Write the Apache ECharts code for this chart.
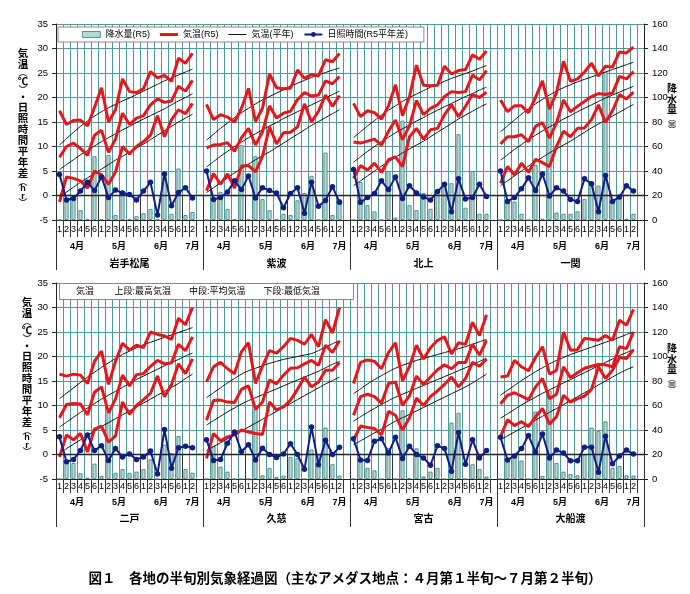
<!DOCTYPE html>
<html><head><meta charset="utf-8">
<script src="https://cdn.jsdelivr.net/npm/echarts@6/dist/echarts.min.js"></script>
<style>html,body{margin:0;padding:0;background:#fff}#c{width:690px;height:594px}</style>
</head><body><div id="c"></div>
<script>
// ---------------- data ----------------
const stations = ['岩手松尾','紫波','北上','一関','二戸','久慈','宮古','大船渡'];
const months = ['4月','5月','6月','7月'];
const monthSizes = [6,6,6,2];
const pentads = ['1','2','3','4','5','6','1','2','3','4','5','6','1','2','3','4','5','6','1','2'];
const legendNames = ['降水量(R5)','気温(R5)','気温(平年)','日照時間(R5平年差)'];
const noteText = '気温　 　上段:最高気温　　中段:平均気温　　下段:最低気温';
const captionText = '図１　各地の半旬別気象経過図（主なアメダス地点：４月第１半旬～７月第２半旬）';
const leftTitle = [['k','気'],['k','温'],['p','︵'],['k','℃'],['p','︶'],['d','・'],['k','日'],['k','照'],['k','時'],['k','間'],['k','平'],['k','年'],['k','差'],['p','︵'],['a','h'],['a','r'],['p','︶']];
const rightTitle = [['k','降'],['k','水'],['k','量'],['p','︵'],['s','㎜'],['p','︶']];

// max temperature R5 (°C)
const tmax = [
 [17.3,14.5,15.3,15.4,14.2,18.0,22.0,15.0,17.5,23.8,21.2,21.0,21.8,25.3,24.0,24.5,23.3,28.0,27.0,29.0],
 [18.6,15.5,16.5,16.0,15.0,17.8,21.9,15.1,17.8,24.8,22.0,21.8,21.9,25.6,23.9,24.7,24.4,27.7,27.3,29.0],
 [18.8,16.1,17.3,16.9,15.6,18.3,22.6,16.3,20.2,26.6,22.5,22.4,22.5,26.4,24.8,25.5,25.7,28.7,27.8,29.5],
 [19.5,17.1,18.3,18.3,16.9,20.0,23.4,17.6,21.0,27.4,23.3,23.8,25.2,27.0,24.4,26.4,26.2,29.3,29.1,30.3],
 [16.4,16.0,16.4,16.2,14.5,19.0,21.1,14.3,19.0,22.7,21.3,22.3,21.8,25.0,24.5,24.2,23.5,27.8,26.5,30.0],
 [14.8,17.9,18.8,17.5,16.5,21.0,22.8,14.5,18.0,21.2,20.7,22.0,23.7,23.3,22.5,24.5,22.0,27.5,24.8,30.0],
 [14.5,18.8,19.3,19.0,17.5,20.8,22.8,15.0,18.0,22.3,19.5,21.8,23.3,24.0,20.5,22.8,22.5,27.0,24.3,28.5],
 [15.8,16.0,19.2,17.9,17.1,19.8,22.0,16.4,17.2,25.0,21.3,21.4,23.7,23.5,23.3,24.3,23.3,27.4,26.4,29.6]
];
// mean temperature R5
const tmean = [
 [7.8,10.0,10.7,9.6,8.2,12.3,13.3,8.8,11.5,16.8,14.5,15.8,16.3,18.5,19.7,19.0,19.3,22.3,21.3,23.5],
 [9.7,10.3,10.4,10.8,9.0,11.8,13.7,10.3,13.0,18.3,15.8,16.8,17.2,19.6,21.0,20.3,20.5,23.4,22.8,24.3],
 [10.9,10.7,11.1,11.5,10.3,13.1,15.4,11.4,14.2,19.4,16.5,17.8,18.5,20.2,21.2,21.0,21.2,24.6,23.6,25.5],
 [10.5,12.0,12.0,12.4,11.0,14.1,14.9,11.7,14.8,19.5,17.1,18.2,19.2,20.2,20.8,20.6,20.9,24.3,23.8,25.3],
 [7.5,10.2,10.4,10.3,8.1,12.7,13.8,8.5,11.3,16.2,14.0,16.3,16.5,18.0,19.2,18.5,18.7,22.5,21.2,24.0],
 [7.0,11.0,11.1,10.7,10.6,13.3,14.0,9.2,10.7,15.2,14.4,16.2,17.6,17.7,18.5,19.2,18.2,22.3,20.8,23.2],
 [8.0,11.8,12.3,11.8,10.5,14.5,14.8,10.0,12.0,16.0,14.3,15.8,17.3,18.3,17.5,18.8,18.8,22.5,20.3,23.3],
 [10.3,12.1,12.6,11.9,11.2,13.8,15.5,11.4,12.3,17.9,15.7,16.7,17.6,18.0,18.4,18.3,17.9,22.0,21.6,25.0]
];
// min temperature R5
const tmin = [
 [-1.3,3.8,3.5,3.0,1.5,5.0,4.2,2.3,4.8,10.0,8.5,10.0,11.0,12.3,16.3,12.0,15.5,17.5,16.7,18.8],
 [1.0,4.5,2.3,4.4,1.5,6.0,6.1,4.8,8.0,14.0,10.5,12.8,12.9,14.0,18.7,15.0,17.2,20.5,18.2,20.4],
 [3.5,6.1,5.2,6.6,4.7,7.3,7.9,5.9,12.0,13.7,11.5,13.4,13.7,16.5,18.5,16.1,18.2,20.6,20.0,21.1],
 [2.5,5.9,4.2,6.6,4.7,7.4,6.7,5.9,10.0,13.1,12.0,13.7,13.8,15.5,18.5,14.9,17.3,20.6,19.7,21.1],
 [-0.5,4.0,3.0,4.3,0.5,5.2,5.8,2.5,3.8,10.7,8.2,10.0,11.2,12.5,16.0,11.8,14.3,18.5,16.5,19.5],
 [-0.8,4.3,2.8,3.6,4.0,5.0,4.6,4.3,4.1,10.7,9.1,9.7,11.1,13.3,15.8,13.8,14.8,17.2,17.2,18.8],
 [3.0,5.8,5.5,5.3,4.0,8.8,8.0,5.0,7.5,11.5,10.0,11.8,13.0,14.3,15.8,13.8,15.5,18.8,18.0,19.5],
 [3.6,7.1,5.9,6.7,5.7,7.7,9.4,6.2,7.7,12.1,10.7,11.4,11.9,13.3,17.9,15.5,17.2,19.8,19.6,21.4]
];
// normal (平年) max / mean / min
const nmax = [
 [10.3,11.6,12.9,14.1,15.2,16.2,17.1,17.9,18.6,19.3,19.9,20.6,21.3,22.0,22.7,23.4,24.0,24.6,25.2,25.8],
 [11.3,12.5,13.7,14.8,15.9,16.9,17.8,18.7,19.5,20.2,20.9,21.6,22.3,22.9,23.5,24.1,24.6,25.1,25.6,26.0],
 [11.8,13.0,14.2,15.3,16.4,17.4,18.3,19.2,20.0,20.7,21.4,22.1,22.7,23.3,23.9,24.4,24.9,25.4,26.0,26.5],
 [13.0,14.2,15.4,16.6,17.7,18.7,19.6,20.5,21.3,22.0,22.6,23.2,23.7,24.2,24.7,25.2,25.7,26.2,26.7,27.2],
 [11.4,12.5,13.6,14.7,15.8,16.8,17.8,18.7,19.6,20.4,21.1,21.8,22.4,22.9,23.4,23.9,24.4,24.9,25.4,25.9],
 [11.6,12.6,13.6,14.6,15.5,16.4,17.1,17.6,18.1,18.6,19.0,19.4,19.7,20.0,20.3,20.6,21.2,21.9,22.6,23.2],
 [12.4,13.4,14.4,15.3,16.1,16.9,17.6,18.2,18.7,19.2,19.6,20.0,20.4,20.8,21.2,21.6,22.0,22.5,23.0,23.5],
 [12.1,13.1,14.1,15.1,16.0,16.9,17.7,18.5,19.2,19.8,20.4,20.9,21.4,21.9,22.4,22.9,23.4,23.9,24.5,25.0]
];
const nmean = [
 [5.3,6.3,7.3,8.3,9.2,10.1,11.0,11.8,12.6,13.4,14.1,14.9,15.6,16.3,17.0,17.7,18.5,19.3,20.0,20.8],
 [5.8,6.9,8.0,9.0,10.0,10.9,11.8,12.6,13.4,14.2,14.9,15.7,16.4,17.1,17.8,18.5,19.2,19.9,20.6,21.3],
 [6.8,7.9,9.0,10.0,11.0,11.9,12.8,13.6,14.4,15.2,15.9,16.7,17.4,18.1,18.8,19.5,20.2,20.8,21.5,22.1],
 [7.2,8.3,9.4,10.4,11.4,12.3,13.2,14.0,14.8,15.6,16.3,17.1,17.8,18.5,19.2,19.9,20.5,21.1,21.7,22.3],
 [5.6,6.6,7.6,8.6,9.5,10.4,11.3,12.1,12.9,13.7,14.5,15.3,16.0,16.7,17.4,18.1,18.8,19.4,20.1,20.7],
 [6.0,6.9,7.8,8.7,9.5,10.3,11.0,11.6,12.2,12.8,13.4,14.0,14.6,15.2,15.8,16.4,17.0,17.7,18.4,19.0],
 [6.8,7.7,8.6,9.4,10.2,11.0,11.7,12.3,12.9,13.5,14.1,14.7,15.3,15.9,16.5,17.1,17.7,18.3,19.0,19.6],
 [7.4,8.3,9.2,10.1,10.9,11.7,12.5,13.2,13.9,14.6,15.3,16.0,16.7,17.4,18.1,18.8,19.5,20.2,20.8,21.4]
];
const nmin = [
 [-0.3,0.7,1.7,2.7,3.6,4.5,5.4,6.3,7.2,8.0,8.8,9.7,10.5,11.4,12.3,13.2,14.1,15.0,15.8,16.6],
 [0.6,1.6,2.6,3.6,4.6,5.5,6.4,7.3,8.1,8.9,9.8,10.7,11.6,12.5,13.4,14.3,15.1,15.9,16.7,17.5],
 [2.0,3.0,4.0,5.0,6.0,6.9,7.8,8.7,9.5,10.3,11.1,12.0,12.9,13.8,14.7,15.6,16.4,17.2,18.0,18.7],
 [2.0,3.0,4.0,5.0,6.0,6.9,7.8,8.7,9.5,10.3,11.1,12.0,12.9,13.8,14.6,15.4,16.2,17.0,17.8,18.6],
 [0.3,1.2,2.1,3.0,3.9,4.8,5.7,6.5,7.3,8.1,8.9,9.7,10.5,11.3,12.1,12.9,13.7,14.5,15.5,16.4],
 [0.8,1.6,2.4,3.2,4.0,4.8,5.6,6.4,7.2,8.0,8.8,9.6,10.4,11.2,12.0,12.8,13.6,14.4,15.1,15.8],
 [2.0,2.8,3.6,4.4,5.2,6.0,6.8,7.5,8.2,8.9,9.6,10.3,11.0,11.7,12.4,13.1,13.8,14.6,15.5,16.4],
 [3.0,3.8,4.6,5.4,6.2,7.0,7.8,8.6,9.4,10.2,11.0,11.8,12.6,13.4,14.2,15.0,15.8,16.6,17.3,17.9]
];
// sunshine hours, difference from normal (hr)
const sunDiff = [
 [4.3,-0.9,-0.6,0.9,2.7,1.0,3.8,-0.4,1.1,0.5,0.2,-0.9,0.9,2.7,-4.0,4.4,-2.1,0.6,1.6,-0.5],
 [5.0,-0.8,-0.4,0.7,3.0,1.2,4.0,-0.5,1.6,1.0,0.5,-2.5,0.4,1.6,-3.6,2.7,-2.2,-1.0,1.8,-1.4],
 [5.3,-1.4,-0.4,0.4,3.0,1.2,3.8,-0.6,2.0,0.5,-0.3,-0.9,0.8,2.3,-3.3,3.4,-0.7,-0.4,2.3,-0.2],
 [5.0,-1.2,-0.4,1.4,3.6,1.0,4.4,-0.1,1.6,0.9,-0.8,-1.2,3.4,2.4,-3.3,4.1,-1.2,-0.3,2.0,0.9],
 [3.6,-1.5,-1.0,0.8,4.0,0.8,1.8,-1.2,1.2,-0.5,0.1,-1.0,-0.5,0.7,-4.0,5.1,-2.8,1.4,1.7,1.4],
 [3.0,-1.2,-1.0,2.3,4.6,0.6,2.0,-1.1,1.3,0.0,-0.6,0.1,2.2,0.0,-3.0,5.6,-2.1,2.9,0.0,1.5],
 [3.2,-1.1,-1.2,2.7,3.2,0.3,3.5,-0.8,1.7,0.0,-0.7,-2.2,1.8,1.2,-3.4,4.5,-2.0,3.0,-0.7,0.8],
 [3.5,-1.1,-0.3,1.2,3.9,0.5,4.2,-0.7,0.9,0.3,-1.3,-1.3,1.5,1.5,-3.6,3.7,-1.9,-0.3,0.9,0.1]
];
// precipitation R5 (mm)
const precip = [
 [0,17,17,8,0.5,52,0.5,53,4,24,0.5,3,5.5,9,0,36,5,42,4,6.5],
 [0,17,23,9,0.5,61,0.5,52,17,8,0.5,5,4,16,22,36,0,55,4,17],
 [0,31,12,7,0,40,2,81,12,8,22,9,22,29,30,70,10,40,5,5],
 [0,17,15,5,0,45,1,100,6,5,5,7,17,30,28,121,16,19,1,5],
 [0,13,13,4.6,1,12.5,2.5,55,5,8,5,6,8,16,0,28,21,35,8,5],
 [0,27,10,6,0,0,0,57,3,9,1.6,2.7,18,17,0,24,20,42,12,2.7],
 [0,15,9,7,0,25,0,56,0.5,25,2,6,9,0,46,54,0,12,8,2],
 [0,16,18,15,0,55,2.5,72,13,6,4,3,20,42,39,47,9,10.6,3,2.7]
];

// ---------------- build ----------------
const FONT = "'Liberation Sans','Noto Sans CJK JP',sans-serif";
const GRIDC = '#4f9a98';
const RED = '#e5161c';
const NAVY = '#111c84';
const PER = pentads.length + 1;            // 20 pentads + 1 blank slot
const NCAT = PER * 4;                      // 84 categories per panel
const NHALF = NCAT * 2 + 1;                // half-step points for group labels

function panelData(arr, p) {
  const out = [];
  for (let k = 0; k < 4; k++) { out.push(...arr[p * 4 + k]); out.push(null); }
  return out;
}
const monthLabelAt = {}, monthBounds = new Set();
for (let k = 0; k < 4; k++) {
  let start = k * PER; monthBounds.add(2 * start);
  months.forEach((m, mi) => {
    const span = monthSizes[mi] + (mi === months.length - 1 ? 1 : 0);
    monthLabelAt[2 * start + span] = m; start += span; monthBounds.add(2 * start);
  });
}
function stationLabelAt(p) {
  const o = {}; for (let k = 0; k < 4; k++) o[2 * k * PER + PER] = stations[p * 4 + k]; return o;
}
const staBounds = new Set([0, 2 * PER, 4 * PER, 6 * PER, 8 * PER]);

const panels = [
  {top: 24, h: 196, numM: 5, monM: 22, staM: 39, tA: 17, tM: 33, tS: 50},
  {top: 283, h: 196, numM: 3, monM: 19, staM: 35, tA: 14, tM: 30, tS: 48}
];
const grid = [], xAxis = [], yAxis = [], series = [];
const catIds = Array.from({length: NCAT}, (_, i) => 'c' + i);
const halfIds = Array.from({length: NHALF}, (_, i) => 'h' + i);

panels.forEach((P, p) => {
  grid.push({left: 56, right: 46, top: P.top, height: P.h});
  const tickStyle = {color: '#333', width: 1};
  xAxis.push({
    type: 'category', gridIndex: p, position: 'bottom', data: catIds, boundaryGap: true,
    axisLine: {show: true, onZero: false, lineStyle: {color: '#222', width: 1}},
    axisTick: {show: true, interval: 0, length: P.tA, lineStyle: tickStyle},
    axisLabel: {interval: 0, margin: P.numM, fontSize: 9, color: '#000', fontFamily: FONT,
      formatter: (v, i) => { const j = i % PER; return j < pentads.length ? pentads[j] : ''; }},
    splitLine: {show: true, interval: 0, lineStyle: {color: GRIDC, width: 1}}
  });
  xAxis.push({
    type: 'category', gridIndex: p, position: 'bottom', data: halfIds, boundaryGap: false,
    axisLine: {show: false},
    axisTick: {show: true, interval: (i) => monthBounds.has(i), length: P.tM, lineStyle: tickStyle},
    axisLabel: {interval: (i) => monthLabelAt[i] !== undefined, margin: P.monM, fontSize: 9, fontWeight: 'bold', color: '#000', fontFamily: FONT,
      formatter: (v, i) => monthLabelAt[i] || ''},
    splitLine: {show: false}
  });
  const sl = stationLabelAt(p);
  xAxis.push({
    type: 'category', gridIndex: p, position: 'bottom', data: halfIds, boundaryGap: false,
    axisLine: {show: false},
    axisTick: {show: true, interval: (i) => staBounds.has(i), length: P.tS, lineStyle: tickStyle},
    axisLabel: {interval: (i) => sl[i] !== undefined, margin: P.staM, fontSize: 10, fontWeight: 'bold', color: '#000', fontFamily: FONT,
      formatter: (v, i) => sl[i] || ''},
    splitLine: {show: false}
  });
  yAxis.push({
    type: 'value', gridIndex: p, position: 'left', min: -5, max: 35, interval: 5,
    axisLine: {show: true, lineStyle: {color: '#222'}},
    axisTick: {show: true, length: 4, lineStyle: {color: '#222'}},
    axisLabel: {margin: 8, fontSize: 9.5, color: '#000', fontFamily: FONT},
    splitLine: {show: true, lineStyle: {color: GRIDC, width: 1}}
  });
  yAxis.push({
    type: 'value', gridIndex: p, position: 'right', min: 0, max: 160, interval: 20,
    axisLine: {show: true, lineStyle: {color: '#222'}},
    axisTick: {show: true, length: 4, lineStyle: {color: '#222'}},
    axisLabel: {margin: 8, fontSize: 9.5, color: '#000', fontFamily: FONT},
    splitLine: {show: false}
  });
  const xi = p * 3, yl = p * 2, yr = p * 2 + 1;
  series.push({type: 'bar', name: legendNames[0], xAxisIndex: xi, yAxisIndex: yr, data: panelData(precip, p),
    barWidth: 4, itemStyle: {color: '#b4dad5', borderColor: '#3a7878', borderWidth: 0.8}, z: 2, silent: true});
  [nmax, nmean, nmin].forEach((a, k) => series.push({type: 'line', name: legendNames[2], xAxisIndex: xi, yAxisIndex: yl,
    data: panelData(a, p), smooth: 0.4, symbol: 'none', connectNulls: false,
    lineStyle: {color: '#111', width: 1}, itemStyle: {color: '#111'}, z: 3, silent: true,
    markLine: k === 0 ? {silent: true, symbol: 'none', label: {show: false}, animation: false,
      lineStyle: {color: '#222', width: 1.3, type: 'solid'}, data: [{yAxis: 0}]} : undefined}));
  [tmax, tmean, tmin].forEach(a => series.push({type: 'line', name: legendNames[1], xAxisIndex: xi, yAxisIndex: yl,
    data: panelData(a, p), symbol: 'none', connectNulls: false,
    lineStyle: {color: RED, width: 3}, itemStyle: {color: RED}, z: 4, silent: true}));
  series.push({type: 'line', name: legendNames[3], xAxisIndex: xi, yAxisIndex: yl, data: panelData(sunDiff, p),
    symbol: 'circle', symbolSize: 5.5, showSymbol: true, connectNulls: false,
    lineStyle: {color: NAVY, width: 2}, itemStyle: {color: NAVY}, z: 5, silent: true});
});

function rich(tokens) { return tokens.map(([s, t]) => '{' + s + '|' + t + '}').join('\n'); }
const leftRich = {
  k: {fontSize: 10.5, lineHeight: 11, fontFamily: "'Noto Sans CJK JP'", fontWeight: 'bold', color: '#222'},
  p: {fontSize: 9, lineHeight: 6, fontFamily: "'Noto Sans CJK JP'", color: '#222'},
  d: {fontSize: 10, lineHeight: 9, fontFamily: "'Noto Sans CJK JP'", fontWeight: 'bold', color: '#222'},
  a: {fontSize: 9, lineHeight: 7.5, fontFamily: FONT, fontWeight: 'bold', color: '#222'}
};
const rightRich = {
  k: {fontSize: 10, lineHeight: 10.5, fontFamily: "'Noto Sans CJK JP'", fontWeight: 'bold', color: '#222'},
  p: {fontSize: 8, lineHeight: 5.5, fontFamily: "'Noto Sans CJK JP'", color: '#222'},
  s: {fontSize: 7, lineHeight: 7, fontFamily: "'Noto Sans CJK JP'", color: '#222'}
};
const graphic = [
  {type: 'text', x: 23, y: 127, style: {text: rich(leftTitle), rich: leftRich, align: 'center', verticalAlign: 'middle'}},
  {type: 'text', x: 27, y: 376, style: {text: rich(leftTitle), rich: leftRich, align: 'center', verticalAlign: 'middle'}},
  {type: 'text', x: 672, y: 108, style: {text: rich(rightTitle), rich: rightRich, align: 'center', verticalAlign: 'middle'}},
  {type: 'text', x: 672, y: 368, style: {text: rich(rightTitle), rich: rightRich, align: 'center', verticalAlign: 'middle'}}
];

const option = {
  animation: false,
  backgroundColor: '#fff',
  textStyle: {fontFamily: FONT},
  grid, xAxis, yAxis, series, graphic,
  title: [
    {text: captionText, left: 'center', top: 566,
     textStyle: {fontSize: 13.5, fontWeight: 'bold', color: '#000', fontFamily: "'Noto Sans CJK JP'"}},
    {text: noteText, left: 59, top: 283, padding: [4, 34, 4, 17],
     backgroundColor: '#fff', borderColor: '#888', borderWidth: 1,
     textStyle: {fontSize: 9, fontWeight: 'normal', color: '#000', fontFamily: FONT}}
  ],
  legend: {
    left: 58, top: 27, padding: [3, 16, 3, 24], itemGap: 10, itemWidth: 18, itemHeight: 6,
    backgroundColor: '#fff', borderColor: '#888', borderWidth: 1, selectedMode: false,
    textStyle: {fontSize: 9, color: '#000', fontFamily: FONT},
    data: [
      {name: legendNames[0], icon: 'rect', itemStyle: {color: '#b4dad5', borderColor: '#3a7878', borderWidth: 0.8}},
      {name: legendNames[1], icon: 'path://M0,0H18V3H0Z', itemStyle: {color: RED}},
      {name: legendNames[2], icon: 'path://M0,0H18V1H0Z', itemStyle: {color: '#111'}},
      {name: legendNames[3]}
    ]
  }
};
const chart = echarts.init(document.getElementById('c'), null, {renderer: 'canvas'});
chart.setOption(option);
</script>
</body></html>
